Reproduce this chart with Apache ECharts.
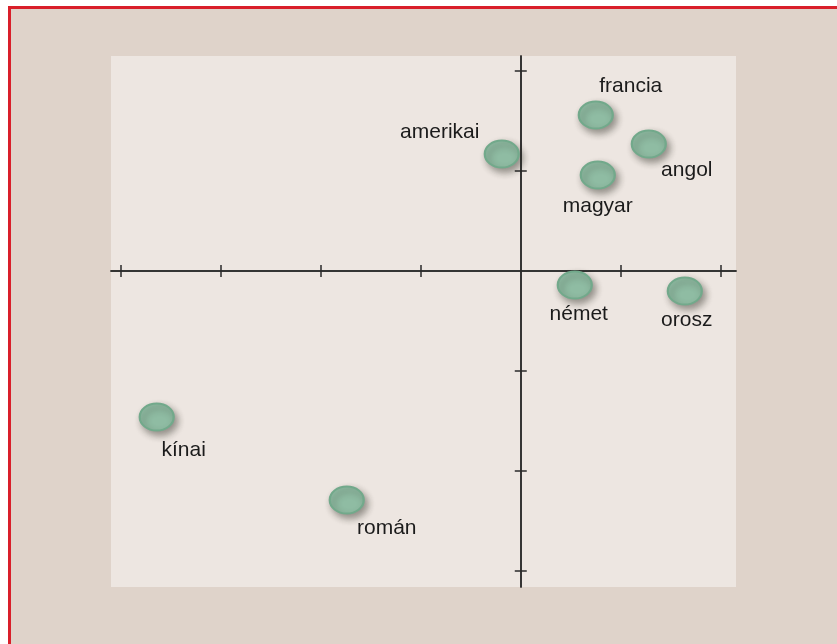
<!DOCTYPE html>
<html>
<head>
<meta charset="utf-8">
<script src="https://cdn.jsdelivr.net/npm/echarts@6/dist/echarts.min.js"></script>
<style>
  html, body { margin: 0; padding: 0; background: #fff; }
  .frame { position: absolute; left: 8px; top: 6px; width: 840px; height: 660px;
           box-sizing: border-box; border: 3px solid #d91f2a; background: #dfd3ca; }
  .map { position: absolute; left: 0; top: 0; width: 837px; height: 644px; }
</style>
</head>
<body>
<div class="frame"></div>
<div class="map"></div>
<script>
// nemzetiségek a két dimenzión
const names = ['francia', 'angol', 'magyar', 'amerikai', 'német', 'orosz', 'kínai', 'román'];
const xVals = [0.75, 1.28, 0.77, -0.19, 0.54, 1.64, -3.64, -1.74];
const yVals = [1.56, 1.27, 0.96, 1.17, -0.14, -0.20, -1.46, -2.29];
const xTicks = [-4, -3, -2, -1, 1, 2];
const yTicks = [-3, -2, -1, 1, 2];

// label placement (px from the marker centre)
const labelShift = {
    'francia': [35, -29], 'angol': [38, 26], 'magyar': [0, 31], 'amerikai': [-62, -22],
    'német': [4, 29], 'orosz': [2, 29], 'kínai': [27, 33], 'román': [40, 28]
};

const axisBase = (ticks) => ({
    type: 'value',
    axisLine: { show: true, onZero: true, lineStyle: { color: '#2a2a2a', width: 1.5 } },
    axisTick: { show: true, length: 6, customValues: ticks, lineStyle: { color: '#2a2a2a', width: 1.5 } },
    axisLabel: { show: false },
    splitLine: { show: false }
});

const mkAxis = (ticks, min, max, inside, pos) => {
    let a = axisBase(ticks);
    a.min = min;
    a.max = max;
    a.position = pos;
    a.axisTick.inside = inside;
    return a;
};

let myChart = echarts.init(document.querySelector('.map'), null, { renderer: 'canvas' });
myChart.setOption({
    backgroundColor: 'transparent',
    animation: false,
    grid: {
        left: 111, right: 101, top: 56, bottom: 57,
        show: true, backgroundColor: '#ede6e1', borderWidth: 0
    },
    xAxis: [
        mkAxis(xTicks, -4.097, 2.152, false, 'bottom'),
        mkAxis(xTicks, -4.097, 2.152, true, 'bottom')
    ],
    yAxis: [
        mkAxis(yTicks, -3.16, 2.15, false, 'left'),
        mkAxis(yTicks, -3.16, 2.15, true, 'left')
    ],
    series: [
        {
            type: 'scatter',
            xAxisIndex: 0,
            yAxisIndex: 0,
            symbol: 'circle',
            symbolSize: [34, 27],
            itemStyle: {
                color: '#8fbca3',
                borderColor: '#72a98b',
                borderWidth: 2,
                opacity: 1,
                shadowColor: 'rgba(40,40,30,0.45)',
                shadowBlur: 7,
                shadowOffsetX: 3,
                shadowOffsetY: 4
            },
            label: {
                show: true,
                position: 'inside',
                formatter: (p) => p.name,
                fontFamily: '"Liberation Sans", Arial, sans-serif',
                fontSize: 21,
                color: '#1b1b1b'
            },
            data: names.map((n, i) => ({
                name: n,
                value: [xVals[i], yVals[i]],
                label: { offset: labelShift[n] }
            }))
        }
    ]
});
</script>
</body>
</html>
